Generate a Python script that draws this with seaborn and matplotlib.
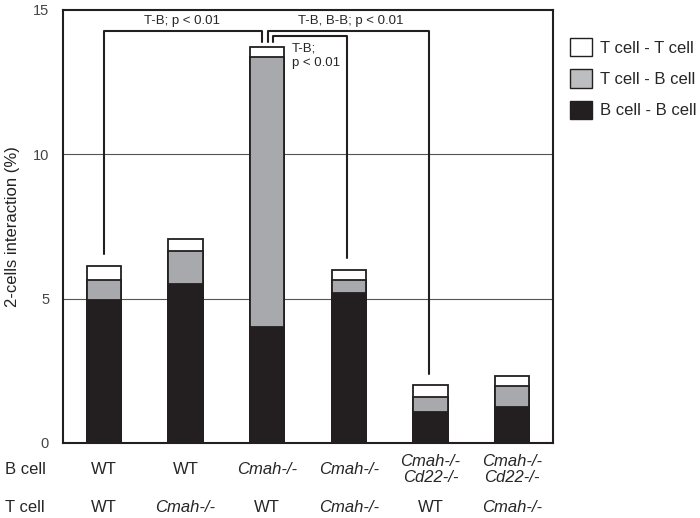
import pandas as pd
import seaborn as sns
import matplotlib.pyplot as plt
from matplotlib.patches import Patch

# values (%)
b_cell_labels = ["WT", "WT", "Cmah-/-", "Cmah-/-", "Cmah-/-\nCd22-/-", "Cmah-/-\nCd22-/-"]
t_cell_labels = ["WT", "Cmah-/-", "WT", "Cmah-/-", "WT", "Cmah-/-"]
bb_values = [4.95, 5.50, 4.00, 5.20, 1.08, 1.24]
tb_values = [0.70, 1.16, 9.38, 0.45, 0.50, 0.73]
tt_values = [0.49, 0.40, 0.32, 0.35, 0.42, 0.36]
series_names = ["T cell - T cell", "T cell - B cell", "B cell - B cell"]
series_colors = ["#ffffff", "#a7a9ac", "#231f20"]
legend_colors = ["#ffffff", "#bcbec0", "#231f20"]

sns.set_theme(style="white")
plt.rcParams["font.family"] = ["Liberation Sans", "DejaVu Sans"]

df = pd.DataFrame({
    "group": [f"{b}|{t}" for b, t in zip(b_cell_labels, t_cell_labels)],
    "bb": bb_values, "tb": tb_values, "tt": tt_values,
})
df["bb_tb"] = df["bb"] + df["tb"]
df["total"] = df["bb_tb"] + df["tt"]

fig = plt.figure(figsize=(7, 5.18), dpi=100)
ax = fig.add_axes([0.09, 0.145, 0.70, 0.836])

# gridlines at 5 and 10
for y in (5, 10):
    ax.axhline(y, color="#555555", lw=0.8, zorder=0)

# stacked bars drawn as overlaid cumulative heights
for col, color in zip(["total", "bb_tb", "bb"], series_colors):
    sns.barplot(data=df, x="group", y=col, color=color, width=0.42,
                edgecolor="#231f20", linewidth=1.3, saturation=1,
                ax=ax, zorder=2)

ax.set_xlim(-0.5, 5.5)
ax.set_ylim(0, 15)
ax.set_yticks([0, 5, 10, 15])
ax.set_yticklabels(["0", "5", "10", "15"], fontsize=10.5, color="#444444")
ax.tick_params(axis="y", length=0, pad=10)
ax.set_xticks([])
ax.set_xlabel("")
ax.set_ylabel("2-cells interaction (%)", fontsize=12, labelpad=9, color="#222222")
for s in ax.spines.values():
    s.set_visible(True)
    s.set_color("#231f20")
    s.set_linewidth(1.5)

# significance brackets
totals = df["total"].tolist()
top_y, inner_y, leg_y, off = 14.28, 14.1, 13.9, 0.4
bk = dict(color="#231f20", lw=1.5, clip_on=False, zorder=3)
ax.plot([0, 0, 1.94, 1.94], [totals[0] + off, top_y, top_y, leg_y], **bk)
ax.plot([2.01, 2.01, 3.98, 3.98], [leg_y, top_y, top_y, totals[4] + off], **bk)
ax.plot([2.075, 2.075, 2.98, 2.98], [leg_y, inner_y, inner_y, totals[3] + off], **bk)
ax.text(0.96, 14.42, "T-B; p < 0.01", ha="center", va="bottom", fontsize=9.5)
ax.text(3.02, 14.42, "T-B, B-B; p < 0.01", ha="center", va="bottom", fontsize=9.5)
ax.text(2.30, 13.42, "T-B;\np < 0.01", ha="left", va="center", fontsize=9.5,
        linespacing=1.25)

# category labels under the axis
tr = ax.get_xaxis_transform()
for i, (b, t) in enumerate(zip(b_cell_labels, t_cell_labels)):
    style_b = "normal" if b == "WT" else "italic"
    style_t = "normal" if t == "WT" else "italic"
    ax.text(i, -0.062, b, transform=tr, ha="center", va="center", fontsize=12,
            style=style_b, linespacing=1.08, clip_on=False)
    ax.text(i, -0.150, t, transform=tr, ha="center", va="center", fontsize=12,
            style=style_t, clip_on=False)
fig.text(5 / 700, 1 - 470 / 518, "B cell", ha="left", va="center", fontsize=12)
fig.text(5 / 700, 1 - 508 / 518, "T cell", ha="left", va="center", fontsize=12)

# legend
handles = [Patch(facecolor=c, edgecolor="#231f20", linewidth=1.0) for c in legend_colors]
fig.legend(handles, series_names, loc="upper left", bbox_to_anchor=(0.805, 0.94),
           frameon=False, fontsize=12, handlelength=1.32, handleheight=1.32,
           handletextpad=0.48, labelspacing=0.78, borderaxespad=0)

fig.savefig("out.png", dpi=100)
